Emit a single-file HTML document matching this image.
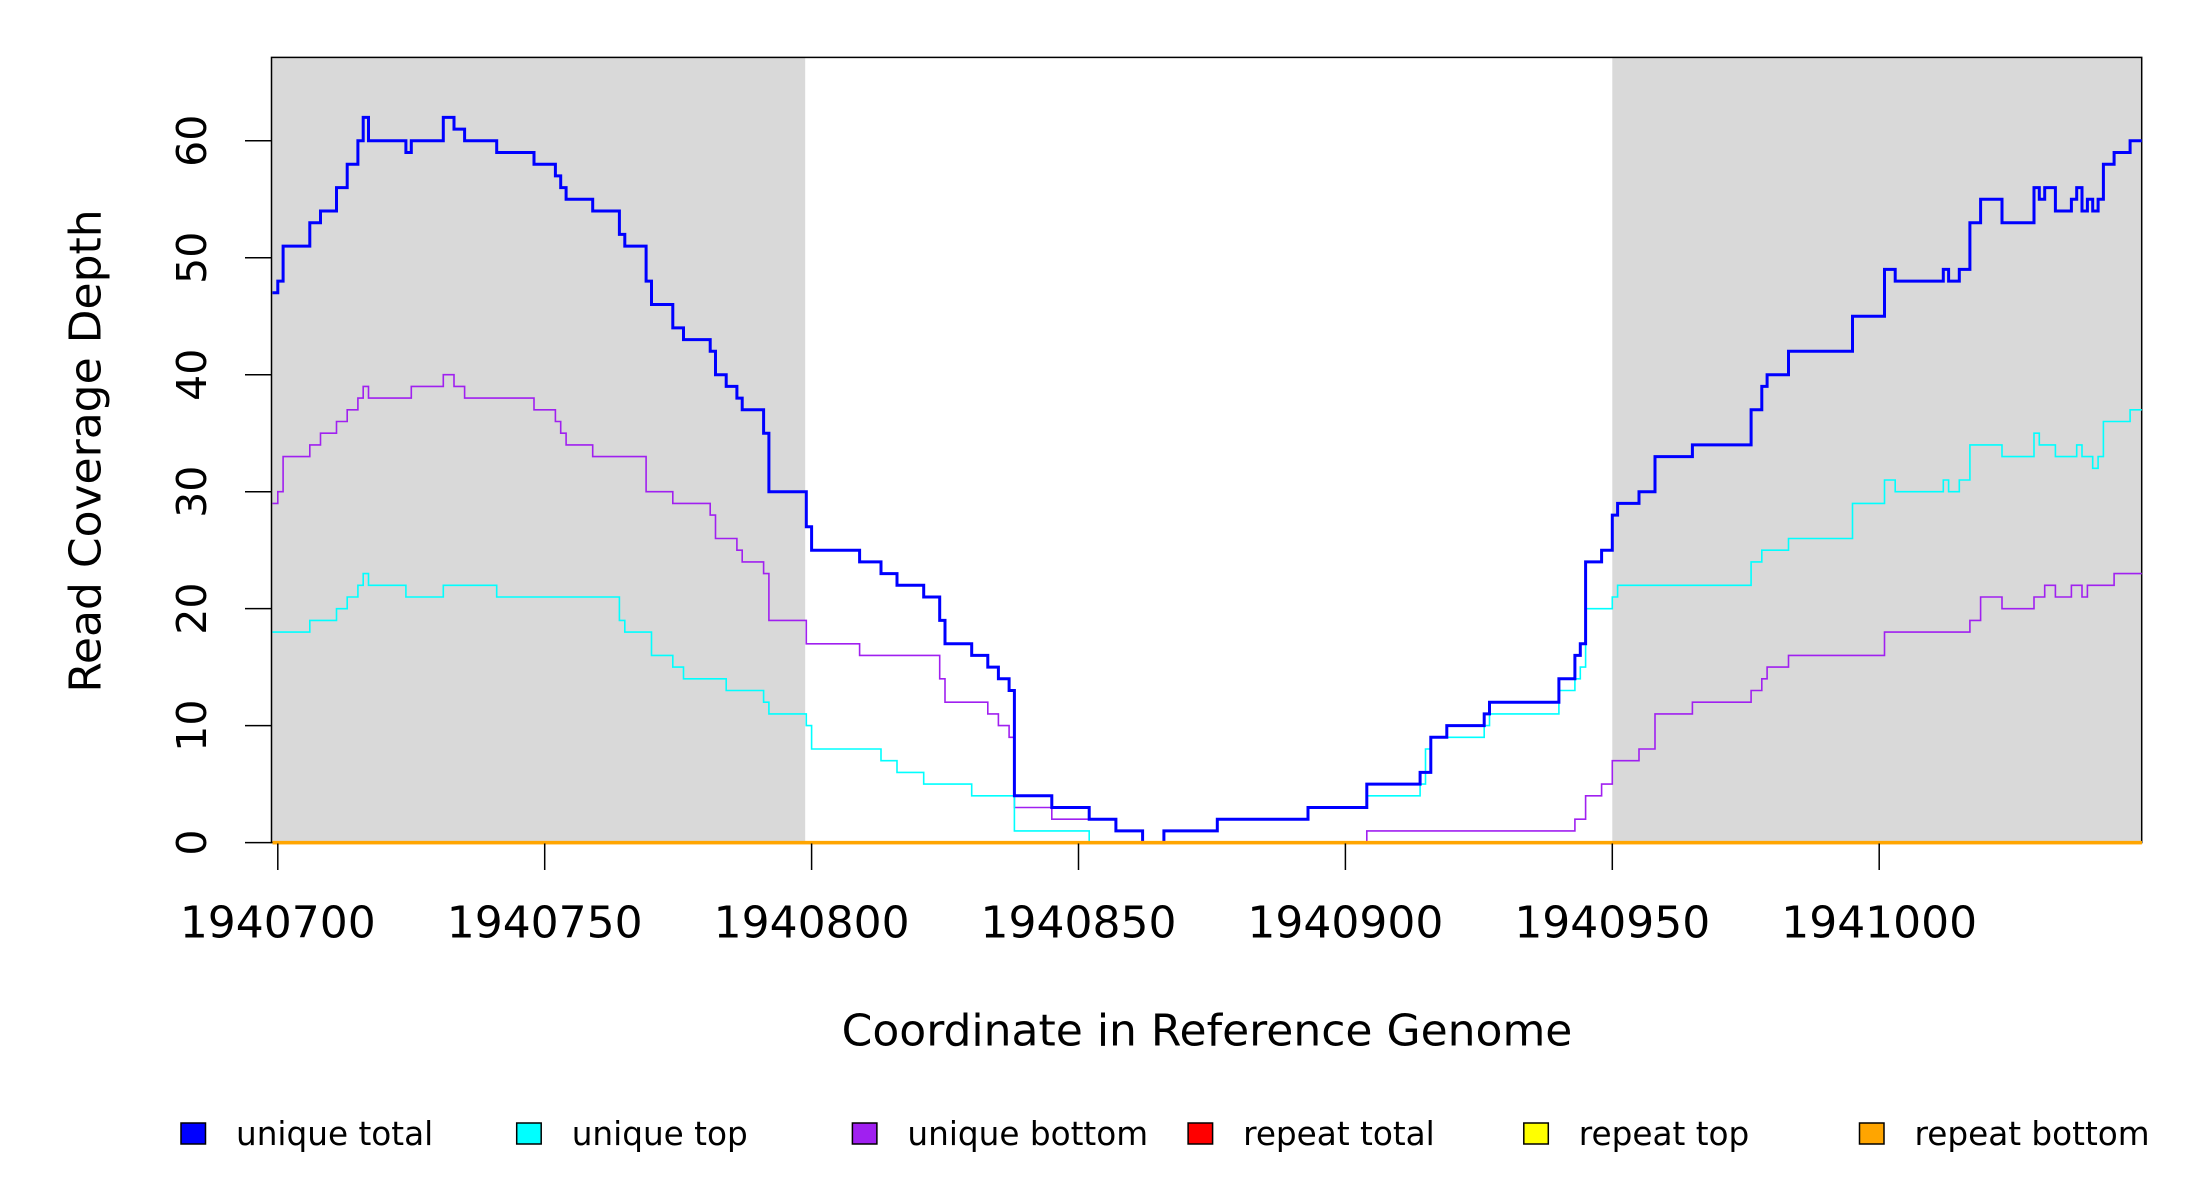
<!DOCTYPE html>
<html><head><meta charset="utf-8"><style>
html,body{margin:0;padding:0;background:#fff;}
svg{display:block;font-family:"DejaVu Sans","Liberation Sans",sans-serif;}
</style></head><body>
<svg id="chart" width="2200" height="1200" viewBox="0 0 2200 1200">
<g id="bg"></g>
<rect x="271.5" y="57.4" width="1870.2" height="785.2" fill="none" stroke="#000" stroke-width="1.5"/>
<g id="series"></g>
<g id="axes"></g>
<text x="86" y="451" font-size="44" text-anchor="middle" dominant-baseline="central" transform="rotate(-90 86 451)">Read Coverage Depth</text>
<text x="1207" y="1031" font-size="44" text-anchor="middle" dominant-baseline="central">Coordinate in Reference Genome</text>
<g id="legend"></g>
</svg>
<script>
const yTicks = [0,10,20,30,40,50,60];
const xTicks = [1940700,1940750,1940800,1940850,1940900,1940950,1941000];
const xTickLabels = ["1940700","1940750","1940800","1940850","1940900","1940950","1941000"];
const shadeStarts = [1940698.8,1940950];
const shadeEnds = [1940798.8,1941049.2];
const xStart = 1940698.8, xEnd = 1941049.2;

const totalX = [1940699,1940700,1940701,1940706,1940708,1940711,1940713,1940715,1940716,1940717,1940724,1940725,1940731,1940733,1940735,1940741,1940748,1940752,1940753,1940754,1940759,1940764,1940765,1940769,1940770,1940774,1940776,1940781,1940782,1940784,1940786,1940787,1940791,1940792,1940799,1940800,1940809,1940813,1940816,1940821,1940824,1940825,1940830,1940833,1940835,1940837,1940838,1940845,1940852,1940857,1940862,1940866,1940876,1940893,1940904,1940914,1940916,1940919,1940926,1940927,1940940,1940943,1940944,1940945,1940948,1940950,1940951,1940955,1940958,1940965,1940976,1940978,1940979,1940983,1940995,1941001,1941003,1941012,1941013,1941015,1941017,1941019,1941023,1941029,1941030,1941031,1941033,1941036,1941037,1941038,1941039,1941040,1941041,1941042,1941044,1941047];
const totalY = [47,48,51,53,54,56,58,60,62,60,59,60,62,61,60,59,58,57,56,55,54,52,51,48,46,44,43,42,40,39,38,37,35,30,27,25,24,23,22,21,19,17,16,15,14,13,4,3,2,1,0,1,2,3,5,6,9,10,11,12,14,16,17,24,25,28,29,30,33,34,37,39,40,42,45,49,48,49,48,49,53,55,53,56,55,56,54,55,56,54,55,54,55,58,59,60];

const topX = [1940699,1940706,1940711,1940713,1940715,1940716,1940717,1940724,1940731,1940741,1940764,1940765,1940770,1940774,1940776,1940784,1940791,1940792,1940799,1940800,1940813,1940816,1940821,1940830,1940838,1940852,1940866,1940876,1940893,1940904,1940914,1940915,1940916,1940926,1940927,1940940,1940943,1940944,1940945,1940950,1940951,1940976,1940978,1940983,1940995,1941001,1941003,1941012,1941013,1941015,1941017,1941023,1941029,1941030,1941033,1941037,1941038,1941040,1941041,1941042,1941047];
const topY = [18,19,20,21,22,23,22,21,22,21,19,18,16,15,14,13,12,11,10,8,7,6,5,4,1,0,1,2,3,4,5,8,9,10,11,13,14,15,20,21,22,24,25,26,29,31,30,31,30,31,34,33,35,34,33,34,33,32,33,36,37];

const bottomX = [1940699,1940700,1940701,1940706,1940708,1940711,1940713,1940715,1940716,1940717,1940725,1940731,1940733,1940735,1940748,1940752,1940753,1940754,1940759,1940769,1940774,1940781,1940782,1940786,1940787,1940791,1940792,1940799,1940809,1940824,1940825,1940833,1940835,1940837,1940838,1940845,1940857,1940862,1940904,1940943,1940945,1940948,1940950,1940955,1940958,1940965,1940976,1940978,1940979,1940983,1941001,1941017,1941019,1941023,1941029,1941031,1941033,1941036,1941038,1941039,1941044];
const bottomY = [29,30,33,34,35,36,37,38,39,38,39,40,39,38,37,36,35,34,33,30,29,28,26,25,24,23,19,17,16,14,12,11,10,9,3,2,1,0,1,2,4,5,7,8,11,12,13,14,15,16,18,19,21,20,21,22,21,22,21,22,23];

const zeroX = [1940699];
const zeroY = [0];

const legendLabels = ["unique total","unique top","unique bottom","repeat total","repeat top","repeat bottom"];
const legendColors = ["#0000ff","#00ffff","#a020f0","#ff0000","#ffff00","#ffa500"];

const NS="http://www.w3.org/2000/svg";
function X(c){return 277.8+(c-1940700)*5.338;}
function Y(v){return 842.6-v*11.697;}
function mk(tag,attrs,parent){const e=document.createElementNS(NS,tag);for(const k in attrs)e.setAttribute(k,attrs[k]);parent.appendChild(e);return e;}

const bg=document.getElementById('bg');
for(let i=0;i<shadeStarts.length;i++){
  const r=mk('rect',{x:X(shadeStarts[i]),y:57.4,width:X(shadeEnds[i])-X(shadeStarts[i]),height:785.2,fill:'#d9d9d9'},bg);
  
  
}

function stepPath(xs,ys){
  let d='M'+X(xs[0]).toFixed(1)+','+Y(ys[0]).toFixed(1);
  for(let i=1;i<xs.length;i++){d+=' H'+X(xs[i]).toFixed(1)+' V'+Y(ys[i]).toFixed(1);}
  d+=' H'+X(xEnd).toFixed(1);
  return d;
}
const sg=document.getElementById('series');
function addLine(xs,ys,color,w,name){
  const p=mk('path',{d:stepPath(xs,ys),fill:'none',stroke:color,'stroke-width':w},sg);
  
  
}
addLine(bottomX,bottomY,'#a020f0',1.6,'unique-bottom-line');
addLine(topX,topY,'#00ffff',1.6,'unique-top-line');
addLine(totalX,totalY,'#0000ff',3,'unique-total-line');
addLine(zeroX,zeroY,'#ff0000',3,'repeat-total-line');
addLine(zeroX,zeroY,'#ffff00',3,'repeat-top-line');
addLine(zeroX,zeroY,'#ffa500',3.5,'repeat-bottom-line');

const ax=document.getElementById('axes');
yTicks.forEach(v=>{
  const l=mk('line',{x1:245,x2:271.5,y1:Y(v),y2:Y(v),stroke:'#000','stroke-width':1.5},ax);
  
  
  const t=mk('text',{x:192,y:Y(v),'font-size':41,'text-anchor':'middle','dominant-baseline':'central',transform:'rotate(-90 192 '+Y(v)+')'},ax);
  t.textContent=String(v);
  
  
});
xTicks.forEach((c,i)=>{
  const l=mk('line',{x1:X(c),x2:X(c),y1:843.5,y2:870,stroke:'#000','stroke-width':1.5},ax);
  
  
  const t=mk('text',{x:X(c),y:923,'font-size':44,'text-anchor':'middle','dominant-baseline':'central'},ax);
  t.textContent=xTickLabels[i];
  
  
});

const lg=document.getElementById('legend');
legendLabels.forEach((lab,i)=>{
  const bx=181+i*335.7;
  const r=mk('rect',{x:bx,y:1123,width:24.5,height:21,fill:legendColors[i],stroke:'#000','stroke-width':1.5},lg);
  
  
  const t=mk('text',{x:bx+55,y:1134,'font-size':32.7,'dominant-baseline':'central'},lg);
  t.textContent=lab;
  
  
});
</script>
</body></html>
